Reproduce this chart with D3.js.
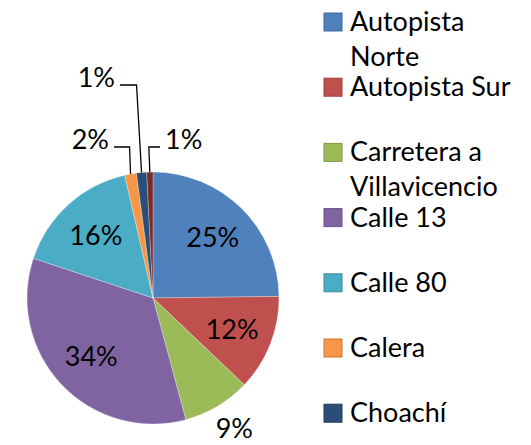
<!DOCTYPE html>
<html>
<head>
<meta charset="utf-8">
<script src="https://cdn.jsdelivr.net/npm/d3@7"></script>
<style>
  html, body { margin: 0; padding: 0; background: #fff; }
  svg text { font-family: Lato, "Open Sans", sans-serif; fill: #000; }
</style>
</head>
<body>
<svg id="chart" width="531" height="445"></svg>
<script>
// Data
var categories = ["Autopista Norte", "Autopista Sur", "Carretera a Villavicencio", "Calle 13",
                  "Calle 80", "Calera", "Choachí", "Otras"];
var shares = [24.8, 12.3, 8.7, 34.3, 16.3, 1.5, 1.3, 0.8];
var colors = ["#4f81bd", "#c0504d", "#9bbb59", "#8064a2", "#4bacc6", "#f79646", "#2c4d75", "#772c2a"];

(function() {
  var svg = d3.select("#chart");
  var W = +svg.attr("width"), H = +svg.attr("height");

  var cx = 153, cy = 298, R = 126;
  var fontSize = 27;

  var data = categories.map(function(c, i) {
    return { name: c, value: shares[i], color: colors[i] };
  });

  var pie = d3.pie().sort(null).value(function(d) { return d.value; });
  var arcs = pie(data);
  var arc = d3.arc().innerRadius(0).outerRadius(R);
  var labelArc = d3.arc().innerRadius(85).outerRadius(85);
  var outArc = d3.arc().innerRadius(153).outerRadius(153);

  var pctText = function(d) { return Math.round(d.data.value) + "%"; };

  var g = svg.append("g").attr("transform", "translate(" + cx + "," + cy + ")");

  // Slices
  g.append("g").selectAll("path").data(arcs).enter()
    .append("path")
    .attr("d", arc)
    .attr("fill", function(d) { return d.data.color; })
    .attr("stroke", "rgba(255,255,255,0.35)")
    .attr("stroke-width", 0.8);

  // Labels inside slices (big ones)
  var big = arcs.filter(function(d) { return d.data.value >= 10; });
  g.append("g").selectAll("text").data(big).enter()
    .append("text")
    .attr("x", function(d) { return labelArc.centroid(d)[0]; })
    .attr("y", function(d) { return labelArc.centroid(d)[1]; })
    .attr("dy", "0.36em")
    .attr("text-anchor", "middle")
    .attr("font-size", fontSize)
    .text(pctText);

  // Outside label without leader (medium)
  var mid = arcs.filter(function(d) { return d.data.value < 10 && d.data.value >= 5; });
  g.append("g").selectAll("text").data(mid).enter()
    .append("text")
    .attr("x", function(d) { return outArc.centroid(d)[0] + 3; })
    .attr("y", function(d) { return outArc.centroid(d)[1]; })
    .attr("dy", "0.33em")
    .attr("text-anchor", "middle")
    .attr("font-size", fontSize)
    .text(pctText);

  // Small slices: labels with leader lines (layout offsets from centre)
  var leaderLayout = {
    "Calera": { elbowY: -151, lineEnd: -39, textX: -44, anchor: "end" },
    "Choachí": { elbowY: -213, lineEnd: -33, textX: -38, anchor: "end" },
    "Otras": { elbowY: -151, lineEnd: 7, textX: 12, anchor: "start" }
  };
  var small = arcs.filter(function(d) { return d.data.value < 5; });
  var edge = function(d) {
    var a = (d.startAngle + d.endAngle) / 2;
    return [Math.sin(a) * R, -Math.cos(a) * R];
  };
  var lg = g.append("g");
  small.forEach(function(d) {
    var L = leaderLayout[d.data.name];
    var p = edge(d);
    var ex = p[0] - (L.elbowY < -200 ? 5 : 1);
    lg.append("polyline")
      .attr("points", [p, [ex, L.elbowY], [L.lineEnd, L.elbowY]].map(function(q) { return q.join(","); }).join(" "))
      .attr("fill", "none")
      .attr("stroke", "#000")
      .attr("stroke-width", 1.3);
    lg.append("text")
      .attr("x", L.textX)
      .attr("y", L.elbowY - 8)
      .attr("dy", "0.36em")
      .attr("text-anchor", L.anchor)
      .attr("font-size", fontSize)
      .text(pctText(d));
  });

  // Legend (entries that run past the bottom edge are not drawn)
  var legendX = 324, legendY0 = 22, rowStep = 65.2, lineH = 35, maxW = 180;
  var legend = svg.append("g");
  data.forEach(function(d, i) {
    var y = legendY0 + i * rowStep;
    if (y + 9 > H) return;
    legend.append("rect")
      .attr("x", legendX)
      .attr("y", y - 9)
      .attr("width", 18)
      .attr("height", 18)
      .attr("fill", d.color)
      .attr("stroke", d3.color(d.color).darker(0.6))
      .attr("stroke-width", 1);

    var t = legend.append("text")
      .attr("x", legendX + 26)
      .attr("y", y + 9)
      .attr("font-size", fontSize);

    // word wrap
    var words = d.name.split(" ");
    var line = [];
    var ts = t.append("tspan").attr("x", legendX + 26).attr("dy", 0);
    words.forEach(function(w) {
      line.push(w);
      ts.text(line.join(" "));
      if (ts.node().getComputedTextLength() > maxW && line.length > 1) {
        line.pop();
        ts.text(line.join(" "));
        line = [w];
        ts = t.append("tspan").attr("x", legendX + 26).attr("dy", lineH).text(w);
      }
    });
  });
}());
</script>
</body>
</html>
